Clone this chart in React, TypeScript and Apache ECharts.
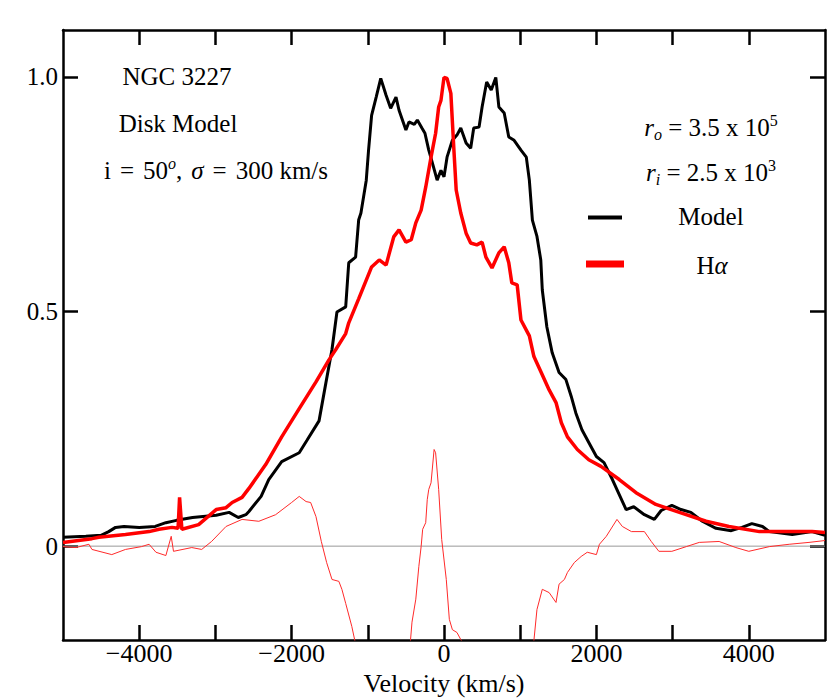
import React, { useEffect, useRef } from 'react';
import * as echarts from 'echarts';

const FONT = 'Liberation Serif';

// Velocity (km/s), normalized flux
const modelProfile: number[][] = [
  [-5000, 0.019], [-4700, 0.021], [-4500, 0.023], [-4400, 0.031], [-4310, 0.040], [-4200, 0.042],
  [-4000, 0.040], [-3790, 0.042], [-3650, 0.050], [-3510, 0.055], [-3300, 0.061], [-2990, 0.066],
  [-2820, 0.072], [-2700, 0.061], [-2600, 0.067], [-2560, 0.074], [-2400, 0.106], [-2300, 0.142],
  [-2130, 0.180], [-1900, 0.199], [-1800, 0.225], [-1640, 0.267], [-1550, 0.348], [-1470, 0.419],
  [-1405, 0.499], [-1290, 0.510], [-1250, 0.604], [-1160, 0.616], [-1120, 0.695], [-1090, 0.710],
  [-1020, 0.780], [-990, 0.844], [-950, 0.918], [-890, 0.957], [-830, 0.997], [-760, 0.961],
  [-700, 0.933], [-630, 0.957], [-590, 0.929], [-500, 0.887], [-460, 0.904], [-390, 0.899],
  [-350, 0.908], [-290, 0.891], [-250, 0.880], [-200, 0.844], [-160, 0.821], [-90, 0.780],
  [-40, 0.801], [0, 0.787], [40, 0.829], [110, 0.865], [170, 0.876], [220, 0.891], [290, 0.859],
  [350, 0.848], [390, 0.891], [460, 0.893], [500, 0.936], [560, 0.989], [620, 0.972], [680, 0.999],
  [720, 0.936], [790, 0.923], [850, 0.872], [920, 0.865], [1010, 0.844], [1080, 0.829],
  [1120, 0.780], [1160, 0.695], [1220, 0.660], [1270, 0.610], [1290, 0.546], [1350, 0.467],
  [1420, 0.412], [1510, 0.370], [1600, 0.355], [1670, 0.319], [1730, 0.284], [1810, 0.248],
  [1900, 0.221], [2000, 0.191], [2100, 0.178], [2210, 0.142], [2300, 0.110], [2390, 0.078],
  [2490, 0.084], [2630, 0.067], [2760, 0.057], [2850, 0.076], [2990, 0.087], [3110, 0.078],
  [3240, 0.072], [3390, 0.053], [3570, 0.038], [3770, 0.033], [3910, 0.040], [4040, 0.048],
  [4180, 0.042], [4270, 0.031], [4570, 0.025], [4830, 0.031], [5000, 0.023],
];

const halphaProfile: number[][] = [
  [-5000, 0.008], [-4620, 0.016], [-4530, 0.019], [-4180, 0.025], [-3870, 0.031], [-3740, 0.036],
  [-3570, 0.040], [-3490, 0.038], [-3470, 0.104], [-3440, 0.036], [-3220, 0.046], [-2990, 0.078],
  [-2860, 0.082], [-2780, 0.093], [-2650, 0.104], [-2560, 0.123], [-2340, 0.174], [-2130, 0.233],
  [-1900, 0.293], [-1680, 0.350], [-1510, 0.397], [-1420, 0.419], [-1290, 0.453], [-1250, 0.476],
  [-1120, 0.527], [-950, 0.595], [-850, 0.610], [-760, 0.599], [-660, 0.659], [-590, 0.674],
  [-500, 0.648], [-430, 0.653], [-370, 0.689], [-300, 0.716], [-240, 0.765], [-170, 0.829],
  [-110, 0.880], [-70, 0.936], [-40, 0.950], [0, 0.999], [40, 0.997], [90, 0.965], [130, 0.844],
  [160, 0.759], [220, 0.710], [290, 0.667], [350, 0.646], [430, 0.642], [500, 0.648], [550, 0.616],
  [630, 0.593], [720, 0.625], [790, 0.638], [850, 0.604], [890, 0.561], [960, 0.557], [1010, 0.482],
  [1120, 0.448], [1180, 0.404], [1270, 0.372], [1380, 0.333], [1470, 0.306], [1540, 0.263],
  [1620, 0.233], [1750, 0.206], [1900, 0.184], [2060, 0.170], [2300, 0.142], [2520, 0.114],
  [2780, 0.089], [3090, 0.072], [3440, 0.053], [3740, 0.042], [4140, 0.031], [4490, 0.031],
  [4830, 0.031], [5000, 0.029],
];

const residualProfile: number[][] = [
  [-5000, -0.001], [-4830, -0.003], [-4660, 0.004], [-4620, -0.007], [-4360, -0.018], [-4180, -0.007],
  [-3970, -0.001], [-3870, 0.004], [-3780, -0.013], [-3650, -0.020], [-3580, 0.021], [-3550, -0.011],
  [-3310, -0.003], [-3180, -0.007], [-3050, 0.010], [-2860, 0.042], [-2650, 0.057], [-2430, 0.053],
  [-2210, 0.067], [-2000, 0.093], [-1900, 0.106], [-1810, 0.095], [-1750, 0.093], [-1680, 0.063],
  [-1610, 0.010], [-1540, -0.035], [-1470, -0.071], [-1380, -0.075], [-1340, -0.092], [-1290, -0.122],
  [-1210, -0.171], [-1160, -0.209], [-1000, -0.250], [-830, -0.390], [-600, -0.300], [-460, -0.240],
  [-420, -0.162], [-370, -0.113], [-330, -0.043], [-300, -0.001], [-280, 0.036], [-240, 0.050],
  [-220, 0.099], [-200, 0.121], [-170, 0.135], [-130, 0.206], [-110, 0.199], [-70, 0.121],
  [-30, 0.014], [30, -0.071], [70, -0.156], [110, -0.178], [170, -0.184], [220, -0.199],
  [400, -0.250], [600, -0.350], [800, -0.300], [1000, -0.360], [1150, -0.250], [1220, -0.135],
  [1290, -0.092], [1380, -0.099], [1470, -0.120], [1510, -0.081], [1580, -0.071], [1620, -0.056],
  [1710, -0.035], [1800, -0.022], [1880, -0.013], [2000, -0.018], [2040, 0.004], [2130, 0.021],
  [2270, 0.057], [2340, 0.042], [2460, 0.031], [2630, 0.031], [2720, 0.010], [2820, -0.011],
  [2990, -0.011], [3180, -0.001], [3350, 0.008], [3610, 0.010], [3830, -0.003], [4000, -0.011],
  [4270, -0.001], [4530, 0.004], [4790, 0.008], [5000, 0.012],
];

const xTickValues = [-4000, -3000, -2000, -1000, 0, 1000, 2000, 3000, 4000];
const xLabelValues = [-4000, -2000, 0, 2000, 4000];
const yTickValues = [0, 0.5, 1.0];

export default function App() {
  const ref = useRef<HTMLDivElement>(null);

  useEffect(() => {
    const chart = echarts.init(ref.current!, null, { renderer: 'svg', width: 830, height: 699 });
    const axisLine = { show: true, onZero: false, lineStyle: { color: '#000', width: 2.5 } };
    const tickStyle = { color: '#000', width: 2.5 };
    const labelFont = { color: '#000', fontFamily: FONT, fontSize: 26 };
    const rich = {
      n: { fontFamily: FONT, fontSize: 25, color: '#000', lineHeight: 30 },
      it: { fontFamily: FONT, fontSize: 25, fontStyle: 'italic', color: '#000', lineHeight: 30 },
      sp: { fontFamily: FONT, fontSize: 25, color: '#000', lineHeight: 30, width: 9 },
      sup: { fontFamily: FONT, fontSize: 16, color: '#000', verticalAlign: 'top', lineHeight: 16 },
      supit: { fontFamily: FONT, fontSize: 16, fontStyle: 'italic', color: '#000', verticalAlign: 'top', lineHeight: 16 },
      subit: { fontFamily: FONT, fontSize: 16, fontStyle: 'italic', color: '#000', verticalAlign: 'bottom', lineHeight: 16 },
    };
    const txt = (x: number, y: number, text: string) => ({
      type: 'text',
      x,
      y,
      style: {
        text,
        rich,
        fontFamily: FONT,
        fontSize: 25,
        fill: '#000',
        textAlign: 'center',
        textVerticalAlign: 'middle',
        align: 'center',
        verticalAlign: 'middle',
      },
    });

    chart.setOption({
      animation: false,
      backgroundColor: '#fff',
      textStyle: { fontFamily: FONT },
      grid: { left: 63, right: 5, top: 30, bottom: 59, containLabel: false, outerBoundsMode: 'none' },
      xAxis: [
        {
          type: 'value',
          min: -5000,
          max: 5000,
          position: 'bottom',
          axisLine,
          axisTick: { show: true, inside: true, length: 15, customValues: xTickValues, lineStyle: tickStyle },
          axisLabel: {
            ...labelFont,
            margin: 0,
            customValues: xLabelValues,
            formatter: (v: number) => (v < 0 ? '\u2212' + Math.abs(v) : String(v)),
          },
          splitLine: { show: false },
          name: 'Velocity (km/s)',
          nameLocation: 'middle',
          nameGap: 24,
          nameTextStyle: { ...labelFont },
        },
        {
          type: 'value',
          min: -5000,
          max: 5000,
          position: 'top',
          axisLine,
          axisTick: { show: true, inside: true, length: 15, customValues: xTickValues, lineStyle: tickStyle },
          axisLabel: { show: false },
          splitLine: { show: false },
        },
      ],
      yAxis: [
        {
          type: 'value',
          min: -0.2,
          max: 1.1,
          position: 'left',
          axisLine,
          axisTick: { show: true, inside: true, length: 15, customValues: yTickValues, lineStyle: tickStyle },
          axisLabel: {
            ...labelFont,
            fontSize: 25,
            margin: 5,
            customValues: yTickValues,
            formatter: (v: number) => (v === 0 ? '0' : v.toFixed(1)),
          },
          splitLine: { show: false },
        },
        {
          type: 'value',
          min: -0.2,
          max: 1.1,
          position: 'right',
          axisLine,
          axisTick: { show: true, inside: true, length: 15, customValues: yTickValues, lineStyle: tickStyle },
          axisLabel: { show: false },
          splitLine: { show: false },
        },
      ],
      series: [
        {
          name: 'zero',
          type: 'line',
          data: [[-5000, 0], [5000, 0]],
          symbol: 'none',
          silent: true,
          lineStyle: { color: '#999', width: 1 },
        },
        {
          name: 'Residual',
          type: 'line',
          data: residualProfile,
          symbol: 'none',
          clip: true,
          lineStyle: { color: '#ff2a2a', width: 1 },
        },
        {
          name: 'Model',
          type: 'line',
          data: modelProfile,
          symbol: 'none',
          lineStyle: { color: '#000', width: 3 },
        },
        {
          name: 'H\u03b1',
          type: 'line',
          data: halphaProfile,
          symbol: 'none',
          lineStyle: { color: '#ff0000', width: 3.5 },
        },
      ],
      graphic: [
        txt(177, 76, '{n|NGC 3227}'),
        txt(178, 123, '{n|Disk Model}'),
        txt(216, 170, '{n|i}{sp| }{n|=}{sp| }{n|50}{supit|o}{n|,}{sp| }{it|\u03c3}{sp| }{n|=}{sp| }{n|300 km/s}'),
        txt(711, 127, '{it|r}{subit|o}{n| = 3.5 x 10}{sup|5}'),
        txt(711, 172, '{it|r}{subit|i}{n| = 2.5 x 10}{sup|3}'),
        txt(711, 216, '{n|Model}'),
        txt(712, 265, '{n|H}{it|\u03b1}'),
        {
          type: 'line',
          shape: { x1: 588, y1: 217.5, x2: 622, y2: 217.5 },
          style: { stroke: '#000', lineWidth: 4 },
        },
        {
          type: 'rect',
          shape: { x: 586, y: 260.5, width: 38, height: 7 },
          style: { fill: '#ff0000' },
        },
      ],
    });
    return () => chart.dispose();
  }, []);

  return <div ref={ref} style={{ position: 'absolute', left: 0, top: 0, width: 830, height: 699 }} />;
}
